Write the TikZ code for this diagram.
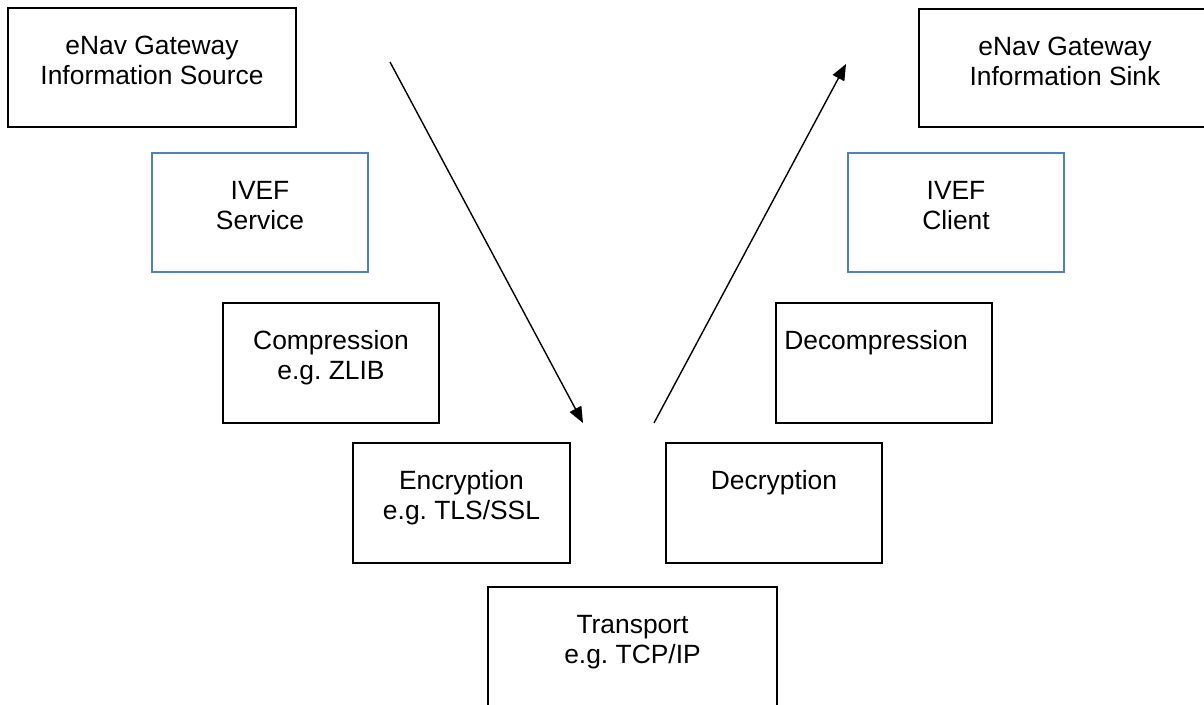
\documentclass[tikz,border=0pt]{standalone}
\usepackage{fontspec}
\setmainfont{Liberation Sans}
\usetikzlibrary{arrows.meta}
\definecolor{ofblue}{RGB}{79,129,189}
\frenchspacing
\newcommand{\bx}[3]{\parbox[c][#2][t]{#1}{\centering\fontsize{26.4}{30}\selectfont\frenchspacing\vspace*{25pt}\strut #3\par}}
\tikzset{
  box/.style={draw=black, line width=2pt, inner sep=0pt, outer sep=0pt, anchor=north west},
  bluebox/.style={box, draw=ofblue},
  flow/.style={line width=1.4pt, -{Triangle[length=16pt,width=13pt]}}
}
\begin{document}
\begin{tikzpicture}[x=1pt,y=-1pt]
\useasboundingbox (0,0) rectangle (1204,704);
\fill[white] (0,0) rectangle (1204,704);
\clip (0,0) rectangle (1204,704);
\node[box] (src) at (8,8) {\bx{288pt}{119pt}{eNav Gateway\\Information Source}};
\node[bluebox] (svc) at (152,153) {\bx{216pt}{119pt}{IVEF\\Service}};
\node[box] (cmp) at (223,303) {\bx{216pt}{120pt}{Compression\\e.g. ZLIB}};
\node[box] (enc) at (353,443) {\bx{217pt}{120pt}{Encryption\\e.g. TLS/SSL}};
\node[box] (trn) at (488,587) {\bx{289pt}{140pt}{Transport\\e.g. TCP/IP}};
\node[box] (dec) at (666,443) {\bx{216pt}{120pt}{Decryption}};
\node[box] (dcm) at (776,303) {\bx{216pt}{120pt}{Decompression\hspace*{16pt}}};
\node[bluebox] (cli) at (848,153) {\bx{216pt}{119pt}{IVEF\\Client}};
\node[box] (snk) at (919,9) {\bx{292pt}{118pt}{eNav Gateway\\Information Sink}};
\coordinate (d1) at (390,62);
\coordinate (d2) at (583,423);
\coordinate (u1) at (654,423);
\coordinate (u2) at (846,64);
\draw[flow] (d1) -- (d2);
\draw[flow] (u1) -- (u2);
\end{tikzpicture}
\end{document}
